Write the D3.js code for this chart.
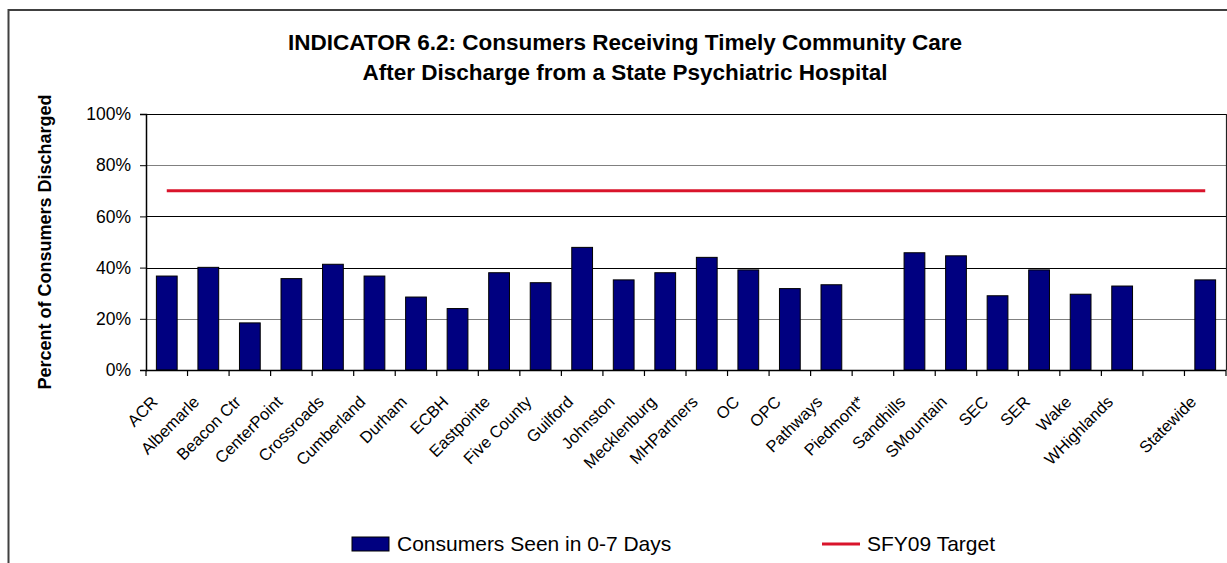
<!DOCTYPE html>
<html>
<head>
<meta charset="utf-8">
<script src="https://cdn.jsdelivr.net/npm/d3@7"></script>
<style>
  html, body { margin: 0; padding: 0; background: #fff; }
  svg { display: block; font-family: "Liberation Sans", Arial, sans-serif; }
</style>
</head>
<body>
<svg id="chart" width="1227" height="563"></svg>
<script>
const categories = ["ACR","Albemarle","Beacon Ctr","CenterPoint","Crossroads","Cumberland","Durham","ECBH","Eastpointe","Five County","Guilford","Johnston","Mecklenburg","MHPartners","OC","OPC","Pathways","Piedmont*","Sandhills","SMountain","SEC","SER","Wake","WHighlands","","Statewide"];
const seen0to7 = [36.7,40.1,18.4,35.7,41.3,36.7,28.5,24.0,38.0,34.1,47.9,35.2,38.0,44.0,39.1,31.8,33.3,null,45.8,44.6,29.0,39.1,29.6,32.8,null,35.2];
const sfy09Target = [70,70,70,70,70,70,70,70,70,70,70,70,70,70,70,70,70,70,70,70,70,70,70,70,70,70];
const yTickValues = [0,20,40,60,80,100];
const yTickLabels = ["0%","20%","40%","60%","80%","100%"];
const titleLines = ["INDICATOR 6.2: Consumers Receiving Timely Community Care","After Discharge from a State Psychiatric Hospital"];
const yAxisTitle = "Percent of Consumers Discharged";
const legendLabels = ["Consumers Seen in 0-7 Days","SFY09 Target"];

const svg = d3.select("#chart");
const plot = {left: 146, right: 1226, top: 114, bottom: 370};

// outer chart border
svg.append("rect").attr("x", 8.5).attr("y", 10).attr("width", 1240).attr("height", 600)
  .attr("fill", "#fff").attr("stroke", "#404040").attr("stroke-width", 2);

const x = d3.scaleBand().domain(categories).range([plot.left, plot.right])
  .paddingInner(0.5).paddingOuter(0.25);
const y = d3.scaleLinear().domain([0, 100]).range([plot.bottom, plot.top]);

// gridlines
svg.append("g").selectAll("line").data(yTickValues.filter(d => d > 0)).join("line")
  .attr("x1", plot.left).attr("x2", plot.right)
  .attr("y1", d => Math.round(y(d)) + 0.5).attr("y2", d => Math.round(y(d)) + 0.5)
  .attr("stroke", d => (d === 20 || d === 80) ? "#808080" : "#000")
  .attr("stroke-width", 1);

// right border of plot area
svg.append("line").attr("x1", plot.right + 0.5).attr("x2", plot.right + 0.5)
  .attr("y1", y(100)).attr("y2", y(0)).attr("stroke", "#222").attr("stroke-width", 1.2);

// bars
svg.append("g").selectAll("rect").data(categories.map((c, i) => ({c, v: seen0to7[i]})).filter(d => d.v !== null))
  .join("rect")
  .attr("x", d => x(d.c)).attr("width", x.bandwidth())
  .attr("y", d => y(d.v)).attr("height", d => y(0) - y(d.v))
  .attr("fill", "#000080").attr("stroke", "#000").attr("stroke-width", 1);

// target line
const line = d3.line().x(d => x(d.c) + x.bandwidth() / 2).y(d => y(d.v));
svg.append("path").datum(categories.map((c, i) => ({c, v: sfy09Target[i]})))
  .attr("d", line).attr("fill", "none").attr("stroke", "#d9142b").attr("stroke-width", 3);

// y axis
const yAxis = d3.axisLeft(y).tickValues(yTickValues)
  .tickFormat((d, i) => yTickLabels[i]).tickSize(6).tickPadding(9);
const gy = svg.append("g").attr("transform", `translate(${plot.left},0)`).call(yAxis);
gy.select(".domain").attr("stroke", "#000").attr("stroke-width", 1.5);
gy.selectAll(".tick line").attr("stroke", "#000");
gy.selectAll(".tick text").attr("font-size", "17.5px").attr("fill", "#000")
  .attr("font-family", "Liberation Sans, Arial, sans-serif");

// x axis line
svg.append("line").attr("x1", plot.left).attr("x2", plot.right)
  .attr("y1", plot.bottom + 0.5).attr("y2", plot.bottom + 0.5).attr("stroke", "#000").attr("stroke-width", 1.5);

// x tick marks at category boundaries
const half = (x.step() - x.bandwidth()) / 2;
const boundaries = categories.map(c => x(c) - half).concat([x(categories[categories.length - 1]) + x.bandwidth() + half]);
svg.append("g").selectAll("line").data(boundaries).join("line")
  .attr("x1", d => d).attr("x2", d => d)
  .attr("y1", plot.bottom).attr("y2", plot.bottom + 6)
  .attr("stroke", "#000").attr("stroke-width", 1.2);

// x labels
const xAxis = d3.axisBottom(x).tickSize(0).tickPadding(0);
const gx = svg.append("g").attr("transform", `translate(0,${plot.bottom})`).call(xAxis);
gx.select(".domain").remove();
gx.selectAll(".tick text")
  .attr("font-size", "16.5px").attr("fill", "#000")
  .attr("font-family", "Liberation Sans, Arial, sans-serif")
  .attr("text-anchor", "end")
  .attr("y", 0).attr("dy", 0)
  .attr("transform", "translate(-8,33) rotate(-45)");

// title
svg.append("text").attr("x", 625).attr("y", 50).attr("text-anchor", "middle")
  .attr("font-weight", "bold").attr("font-size", "22.5px").text(titleLines[0]);
svg.append("text").attr("x", 625).attr("y", 80).attr("text-anchor", "middle")
  .attr("font-weight", "bold").attr("font-size", "22.5px").text(titleLines[1]);

// y axis title
svg.append("text").attr("transform", `translate(51,${(plot.top + plot.bottom) / 2}) rotate(-90)`)
  .attr("text-anchor", "middle").attr("font-weight", "bold").attr("font-size", "18px").text(yAxisTitle);

// legend
const lg = svg.append("g");
lg.append("rect").attr("x", 352).attr("y", 537).attr("width", 37).attr("height", 14)
  .attr("fill", "#000080").attr("stroke", "#000").attr("stroke-width", 1);
lg.append("text").attr("x", 397).attr("y", 551).attr("font-size", "21px").text(legendLabels[0]);
lg.append("line").attr("x1", 822).attr("x2", 860).attr("y1", 544).attr("y2", 544)
  .attr("stroke", "#d9142b").attr("stroke-width", 3);
lg.append("text").attr("x", 867).attr("y", 551).attr("font-size", "21px").text(legendLabels[1]);
</script>
</body>
</html>
